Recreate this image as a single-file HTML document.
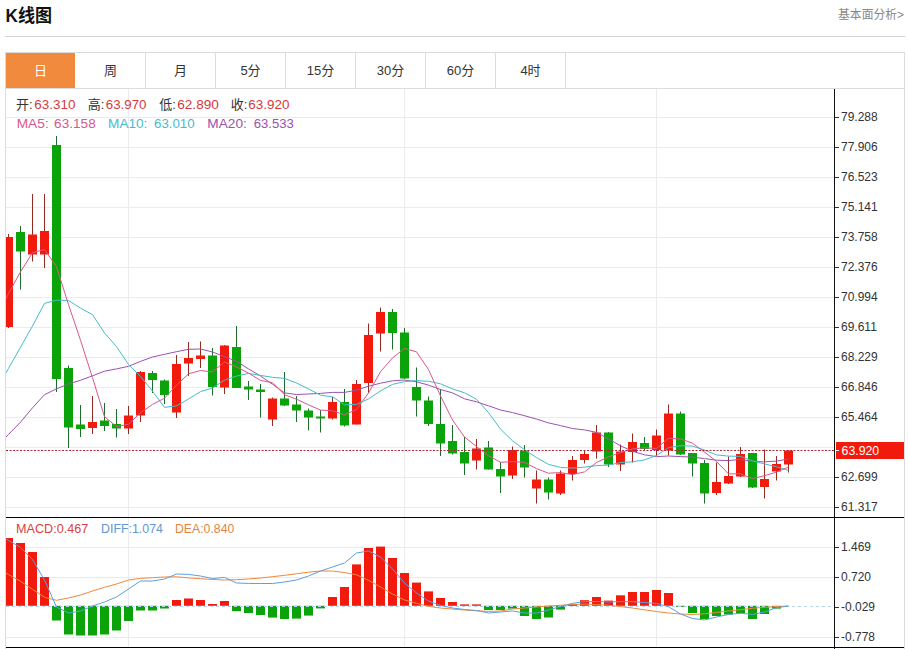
<!DOCTYPE html><html><head><meta charset="utf-8"><style>html,body{margin:0;padding:0;background:#fff;}body{width:908px;height:649px;overflow:hidden;position:relative;}svg{position:absolute;left:0;top:0;display:block;}text{font-family:"Liberation Sans","Noto Sans CJK SC",sans-serif;}</style></head><body>
<svg width="908" height="649" viewBox="0 0 908 649">
<defs><clipPath id="cm"><rect x="6" y="89" width="828.5" height="428"/></clipPath><clipPath id="cd"><rect x="6" y="518" width="828.5" height="129"/></clipPath></defs>
<text x="5.6" y="21.8" font-size="18" font-weight="bold" fill="#111" textLength="46.4" lengthAdjust="spacingAndGlyphs">K线图</text>
<text x="838" y="19.4" font-size="12" fill="#888" textLength="66" lengthAdjust="spacingAndGlyphs">基本面分析&gt;</text>
<rect x="5" y="36" width="900" height="1" fill="#d4d4d4"/>
<rect x="5" y="52" width="900" height="1" fill="#dcdcdc"/>
<rect x="5" y="52" width="1" height="597" fill="#dcdcdc"/>
<rect x="904" y="52" width="1" height="597" fill="#dcdcdc"/>
<rect x="6" y="53" width="69" height="35" fill="#f18a3d"/>
<rect x="145" y="53" width="1" height="35" fill="#dcdcdc"/>
<rect x="215" y="53" width="1" height="35" fill="#dcdcdc"/>
<rect x="285" y="53" width="1" height="35" fill="#dcdcdc"/>
<rect x="355" y="53" width="1" height="35" fill="#dcdcdc"/>
<rect x="425" y="53" width="1" height="35" fill="#dcdcdc"/>
<rect x="495" y="53" width="1" height="35" fill="#dcdcdc"/>
<rect x="565" y="53" width="1" height="35" fill="#dcdcdc"/>
<rect x="5" y="88" width="900" height="1" fill="#dcdcdc"/>
<text x="40.5" y="75.3" font-size="13" fill="#fff" text-anchor="middle">日</text>
<text x="110.5" y="75.3" font-size="13" fill="#333" text-anchor="middle">周</text>
<text x="180.5" y="75.3" font-size="13" fill="#333" text-anchor="middle">月</text>
<text x="250.5" y="75.3" font-size="13" fill="#333" text-anchor="middle">5分</text>
<text x="320.5" y="75.3" font-size="13" fill="#333" text-anchor="middle">15分</text>
<text x="390.5" y="75.3" font-size="13" fill="#333" text-anchor="middle">30分</text>
<text x="460.5" y="75.3" font-size="13" fill="#333" text-anchor="middle">60分</text>
<text x="530.5" y="75.3" font-size="13" fill="#333" text-anchor="middle">4时</text>
<rect x="6" y="117" width="828" height="1" fill="#ebebeb"/>
<rect x="6" y="147" width="828" height="1" fill="#ebebeb"/>
<rect x="6" y="177" width="828" height="1" fill="#ebebeb"/>
<rect x="6" y="207" width="828" height="1" fill="#ebebeb"/>
<rect x="6" y="237" width="828" height="1" fill="#ebebeb"/>
<rect x="6" y="267" width="828" height="1" fill="#ebebeb"/>
<rect x="6" y="297" width="828" height="1" fill="#ebebeb"/>
<rect x="6" y="327" width="828" height="1" fill="#ebebeb"/>
<rect x="6" y="357" width="828" height="1" fill="#ebebeb"/>
<rect x="6" y="387" width="828" height="1" fill="#ebebeb"/>
<rect x="6" y="417" width="828" height="1" fill="#ebebeb"/>
<rect x="6" y="447" width="828" height="1" fill="#ebebeb"/>
<rect x="6" y="477" width="828" height="1" fill="#ebebeb"/>
<rect x="6" y="507" width="828" height="1" fill="#ebebeb"/>
<rect x="6" y="547" width="828" height="1" fill="#ebebeb"/>
<rect x="6" y="577" width="828" height="1" fill="#ebebeb"/>
<rect x="6" y="637" width="828" height="1" fill="#ebebeb"/>
<rect x="128" y="89" width="1" height="558" fill="#ebebeb"/>
<rect x="404" y="89" width="1" height="558" fill="#ebebeb"/>
<rect x="656" y="89" width="1" height="558" fill="#ebebeb"/>
<g clip-path="url(#cm)">
<rect x="8.0" y="234.0" width="1" height="94.0" fill="#962a20"/>
<rect x="4.0" y="237.0" width="9" height="90.0" fill="#f21a0c"/>
<rect x="20.0" y="226.0" width="1" height="63.5" fill="#1c6e2a"/>
<rect x="16.0" y="232.0" width="9" height="19.5" fill="#0aa40a"/>
<rect x="32.0" y="194.0" width="1" height="67.5" fill="#962a20"/>
<rect x="28.0" y="234.5" width="9" height="20.0" fill="#f21a0c"/>
<rect x="44.0" y="194.0" width="1" height="74.0" fill="#962a20"/>
<rect x="40.0" y="231.0" width="9" height="23.5" fill="#f21a0c"/>
<rect x="56.0" y="136.0" width="1" height="256.0" fill="#1c6e2a"/>
<rect x="52.0" y="145.0" width="9" height="234.0" fill="#0aa40a"/>
<rect x="68.0" y="365.5" width="1" height="82.5" fill="#1c6e2a"/>
<rect x="64.0" y="368.0" width="9" height="59.5" fill="#0aa40a"/>
<rect x="80.0" y="405.0" width="1" height="32.0" fill="#1c6e2a"/>
<rect x="76.0" y="424.5" width="9" height="4.5" fill="#0aa40a"/>
<rect x="92.0" y="396.0" width="1" height="38.0" fill="#962a20"/>
<rect x="88.0" y="422.0" width="9" height="6.0" fill="#f21a0c"/>
<rect x="104.0" y="403.0" width="1" height="28.0" fill="#1c6e2a"/>
<rect x="100.0" y="420.5" width="9" height="5.5" fill="#0aa40a"/>
<rect x="116.0" y="409.0" width="1" height="28.5" fill="#1c6e2a"/>
<rect x="112.0" y="424.0" width="9" height="4.5" fill="#0aa40a"/>
<rect x="128.0" y="406.0" width="1" height="28.0" fill="#962a20"/>
<rect x="124.0" y="415.5" width="9" height="13.0" fill="#f21a0c"/>
<rect x="140.0" y="371.0" width="1" height="51.0" fill="#962a20"/>
<rect x="136.0" y="372.0" width="9" height="43.5" fill="#f21a0c"/>
<rect x="152.0" y="371.0" width="1" height="22.0" fill="#1c6e2a"/>
<rect x="148.0" y="373.0" width="9" height="7.0" fill="#0aa40a"/>
<rect x="164.0" y="379.5" width="1" height="24.5" fill="#1c6e2a"/>
<rect x="160.0" y="380.5" width="9" height="14.5" fill="#0aa40a"/>
<rect x="176.0" y="355.0" width="1" height="63.0" fill="#962a20"/>
<rect x="172.0" y="364.0" width="9" height="48.5" fill="#f21a0c"/>
<rect x="188.0" y="342.0" width="1" height="34.0" fill="#962a20"/>
<rect x="184.0" y="358.0" width="9" height="5.5" fill="#f21a0c"/>
<rect x="200.0" y="341.5" width="1" height="26.5" fill="#962a20"/>
<rect x="196.0" y="355.5" width="9" height="3.5" fill="#f21a0c"/>
<rect x="212.0" y="348.0" width="1" height="47.5" fill="#1c6e2a"/>
<rect x="208.0" y="355.5" width="9" height="31.5" fill="#0aa40a"/>
<rect x="224.0" y="345.0" width="1" height="49.0" fill="#962a20"/>
<rect x="220.0" y="345.5" width="9" height="42.0" fill="#f21a0c"/>
<rect x="236.0" y="326.0" width="1" height="62.0" fill="#1c6e2a"/>
<rect x="232.0" y="347.0" width="9" height="41.0" fill="#0aa40a"/>
<rect x="248.0" y="381.0" width="1" height="19.0" fill="#1c6e2a"/>
<rect x="244.0" y="386.5" width="9" height="3.0" fill="#0aa40a"/>
<rect x="260.0" y="384.0" width="1" height="33.5" fill="#1c6e2a"/>
<rect x="256.0" y="389.5" width="9" height="2.5" fill="#0aa40a"/>
<rect x="272.0" y="397.5" width="1" height="28.5" fill="#962a20"/>
<rect x="268.0" y="398.5" width="9" height="21.0" fill="#f21a0c"/>
<rect x="284.0" y="372.0" width="1" height="34.0" fill="#1c6e2a"/>
<rect x="280.0" y="398.5" width="9" height="7.0" fill="#0aa40a"/>
<rect x="296.0" y="396.0" width="1" height="26.0" fill="#1c6e2a"/>
<rect x="292.0" y="404.5" width="9" height="6.0" fill="#0aa40a"/>
<rect x="308.0" y="408.5" width="1" height="22.0" fill="#1c6e2a"/>
<rect x="304.0" y="410.5" width="9" height="7.0" fill="#0aa40a"/>
<rect x="320.0" y="410.0" width="1" height="22.5" fill="#1c6e2a"/>
<rect x="316.0" y="416.5" width="9" height="2.0" fill="#0aa40a"/>
<rect x="332.0" y="397.0" width="1" height="22.5" fill="#962a20"/>
<rect x="328.0" y="402.0" width="9" height="16.5" fill="#f21a0c"/>
<rect x="344.0" y="389.0" width="1" height="37.5" fill="#1c6e2a"/>
<rect x="340.0" y="402.0" width="9" height="23.5" fill="#0aa40a"/>
<rect x="356.0" y="380.0" width="1" height="44.5" fill="#962a20"/>
<rect x="352.0" y="384.0" width="9" height="40.5" fill="#f21a0c"/>
<rect x="368.0" y="323.5" width="1" height="69.5" fill="#962a20"/>
<rect x="364.0" y="335.0" width="9" height="48.0" fill="#f21a0c"/>
<rect x="380.0" y="307.5" width="1" height="44.0" fill="#962a20"/>
<rect x="376.0" y="312.0" width="9" height="21.5" fill="#f21a0c"/>
<rect x="392.0" y="309.0" width="1" height="40.5" fill="#1c6e2a"/>
<rect x="388.0" y="312.0" width="9" height="21.0" fill="#0aa40a"/>
<rect x="404.0" y="328.0" width="1" height="51.0" fill="#1c6e2a"/>
<rect x="400.0" y="332.5" width="9" height="46.0" fill="#0aa40a"/>
<rect x="416.0" y="367.5" width="1" height="49.0" fill="#1c6e2a"/>
<rect x="412.0" y="387.0" width="9" height="13.5" fill="#0aa40a"/>
<rect x="428.0" y="396.5" width="1" height="29.5" fill="#1c6e2a"/>
<rect x="424.0" y="400.5" width="9" height="23.5" fill="#0aa40a"/>
<rect x="440.0" y="389.0" width="1" height="67.0" fill="#1c6e2a"/>
<rect x="436.0" y="424.0" width="9" height="19.5" fill="#0aa40a"/>
<rect x="452.0" y="425.0" width="1" height="29.5" fill="#1c6e2a"/>
<rect x="448.0" y="441.0" width="9" height="12.5" fill="#0aa40a"/>
<rect x="464.0" y="437.0" width="1" height="38.0" fill="#1c6e2a"/>
<rect x="460.0" y="452.0" width="9" height="11.5" fill="#0aa40a"/>
<rect x="476.0" y="439.0" width="1" height="30.5" fill="#962a20"/>
<rect x="472.0" y="448.5" width="9" height="12.0" fill="#f21a0c"/>
<rect x="488.0" y="441.0" width="1" height="28.5" fill="#1c6e2a"/>
<rect x="484.0" y="447.5" width="9" height="22.0" fill="#0aa40a"/>
<rect x="500.0" y="462.0" width="1" height="31.0" fill="#1c6e2a"/>
<rect x="496.0" y="469.0" width="9" height="7.5" fill="#0aa40a"/>
<rect x="512.0" y="446.5" width="1" height="32.5" fill="#962a20"/>
<rect x="508.0" y="450.0" width="9" height="25.5" fill="#f21a0c"/>
<rect x="524.0" y="445.0" width="1" height="32.5" fill="#1c6e2a"/>
<rect x="520.0" y="450.5" width="9" height="17.0" fill="#0aa40a"/>
<rect x="536.0" y="470.5" width="1" height="33.0" fill="#962a20"/>
<rect x="532.0" y="479.5" width="9" height="9.0" fill="#f21a0c"/>
<rect x="548.0" y="477.5" width="1" height="22.0" fill="#1c6e2a"/>
<rect x="544.0" y="479.5" width="9" height="13.0" fill="#0aa40a"/>
<rect x="560.0" y="470.5" width="1" height="24.5" fill="#962a20"/>
<rect x="556.0" y="473.5" width="9" height="20.0" fill="#f21a0c"/>
<rect x="572.0" y="456.0" width="1" height="24.5" fill="#962a20"/>
<rect x="568.0" y="460.0" width="9" height="14.0" fill="#f21a0c"/>
<rect x="584.0" y="450.5" width="1" height="13.0" fill="#962a20"/>
<rect x="580.0" y="454.0" width="9" height="6.0" fill="#f21a0c"/>
<rect x="596.0" y="425.0" width="1" height="33.5" fill="#962a20"/>
<rect x="592.0" y="432.5" width="9" height="19.0" fill="#f21a0c"/>
<rect x="608.0" y="432.0" width="1" height="35.0" fill="#1c6e2a"/>
<rect x="604.0" y="432.5" width="9" height="32.0" fill="#0aa40a"/>
<rect x="620.0" y="444.5" width="1" height="26.5" fill="#962a20"/>
<rect x="616.0" y="451.5" width="9" height="13.0" fill="#f21a0c"/>
<rect x="632.0" y="433.5" width="1" height="29.0" fill="#962a20"/>
<rect x="628.0" y="442.0" width="9" height="10.0" fill="#f21a0c"/>
<rect x="644.0" y="437.0" width="1" height="13.0" fill="#1c6e2a"/>
<rect x="640.0" y="443.0" width="9" height="6.0" fill="#0aa40a"/>
<rect x="656.0" y="429.5" width="1" height="26.5" fill="#962a20"/>
<rect x="652.0" y="435.5" width="9" height="14.5" fill="#f21a0c"/>
<rect x="668.0" y="404.5" width="1" height="51.0" fill="#962a20"/>
<rect x="664.0" y="413.5" width="9" height="37.0" fill="#f21a0c"/>
<rect x="680.0" y="411.5" width="1" height="43.5" fill="#1c6e2a"/>
<rect x="676.0" y="413.5" width="9" height="41.0" fill="#0aa40a"/>
<rect x="692.0" y="453.0" width="1" height="23.5" fill="#1c6e2a"/>
<rect x="688.0" y="453.0" width="9" height="10.5" fill="#0aa40a"/>
<rect x="704.0" y="460.0" width="1" height="43.5" fill="#1c6e2a"/>
<rect x="700.0" y="463.0" width="9" height="30.5" fill="#0aa40a"/>
<rect x="716.0" y="462.5" width="1" height="32.5" fill="#962a20"/>
<rect x="712.0" y="482.0" width="9" height="11.0" fill="#f21a0c"/>
<rect x="728.0" y="456.5" width="1" height="27.5" fill="#962a20"/>
<rect x="724.0" y="476.0" width="9" height="7.5" fill="#f21a0c"/>
<rect x="740.0" y="447.0" width="1" height="30.0" fill="#962a20"/>
<rect x="736.0" y="454.0" width="9" height="22.5" fill="#f21a0c"/>
<rect x="752.0" y="453.0" width="1" height="35.0" fill="#1c6e2a"/>
<rect x="748.0" y="453.0" width="9" height="34.5" fill="#0aa40a"/>
<rect x="764.0" y="449.5" width="1" height="49.0" fill="#962a20"/>
<rect x="760.0" y="479.0" width="9" height="8.0" fill="#f21a0c"/>
<rect x="776.0" y="456.0" width="1" height="24.5" fill="#962a20"/>
<rect x="772.0" y="464.0" width="9" height="7.5" fill="#f21a0c"/>
<rect x="788.0" y="450.5" width="1" height="22.0" fill="#962a20"/>
<rect x="784.0" y="450.5" width="9" height="14.0" fill="#f21a0c"/>
<polyline points="-3.5,447.0 8.5,434.4 20.5,422.2 32.5,407.8 44.5,394.7 56.5,388.8 68.5,383.9 80.5,380.3 92.5,375.8 104.5,371.2 116.5,368.9 128.5,366.3 140.5,361.4 152.5,357.0 164.5,354.3 176.5,351.7 188.5,349.3 200.5,349.0 212.5,352.0 224.5,356.6 236.5,361.3 248.5,368.9 260.5,376.0 272.5,384.2 284.5,392.9 296.5,394.5 308.5,394.0 320.5,393.4 332.5,392.4 344.5,392.4 356.5,390.2 368.5,386.2 380.5,383.2 392.5,380.8 404.5,380.0 416.5,381.8 428.5,385.1 440.5,389.5 452.5,392.9 464.5,398.8 476.5,401.8 488.5,405.8 500.5,410.0 512.5,412.6 524.5,415.7 536.5,419.1 548.5,422.9 560.5,425.6 572.5,428.5 584.5,429.9 596.5,432.4 608.5,438.9 620.5,445.8 632.5,451.3 644.5,454.8 656.5,456.6 668.5,456.0 680.5,456.6 692.5,457.1 704.5,458.6 716.5,460.2 728.5,460.6 740.5,459.4 752.5,461.3 764.5,461.9 776.5,461.1 788.5,459.0" fill="none" stroke="#9d50b2" stroke-width="1"/>
<polyline points="-3.5,390.0 8.5,368.4 20.5,347.3 32.5,326.0 44.5,303.4 56.5,300.2 68.5,300.5 80.5,308.1 92.5,314.7 104.5,333.0 116.5,346.6 128.5,364.4 140.5,376.5 152.5,391.1 164.5,407.4 176.5,405.9 188.5,399.0 200.5,391.6 212.5,388.1 224.5,380.1 236.5,376.1 248.5,373.4 260.5,375.4 272.5,377.3 284.5,378.4 296.5,383.0 308.5,388.9 320.5,395.2 332.5,396.8 344.5,404.8 356.5,404.4 368.5,398.9 380.5,390.9 392.5,384.4 404.5,381.6 416.5,380.6 428.5,381.3 440.5,383.8 452.5,388.9 464.5,392.8 476.5,399.2 488.5,412.6 500.5,429.1 512.5,440.8 524.5,449.7 536.5,457.6 548.5,464.4 560.5,467.4 572.5,468.1 584.5,467.1 596.5,465.6 608.5,465.1 620.5,462.6 632.5,461.8 644.5,459.9 656.5,455.5 668.5,447.6 680.5,445.7 692.5,446.1 704.5,450.0 716.5,454.9 728.5,456.1 740.5,456.4 752.5,460.9 764.5,463.9 776.5,466.8 788.5,470.4" fill="none" stroke="#45bccb" stroke-width="1"/>
<polyline points="-3.5,318.0 8.5,293.6 20.5,271.9 32.5,252.6 44.5,249.5 56.5,266.6 68.5,304.7 80.5,340.2 92.5,377.7 104.5,416.7 116.5,426.6 128.5,424.2 140.5,412.8 152.5,404.4 164.5,398.2 176.5,385.3 188.5,373.8 200.5,370.5 212.5,371.9 224.5,362.0 236.5,366.8 248.5,373.1 260.5,380.4 272.5,382.7 284.5,394.7 296.5,399.2 308.5,404.8 320.5,410.1 332.5,410.8 344.5,414.8 356.5,409.5 368.5,393.0 380.5,371.7 392.5,357.9 404.5,348.5 416.5,351.8 428.5,369.6 440.5,395.9 452.5,420.0 464.5,437.0 476.5,446.6 488.5,455.7 500.5,462.3 512.5,461.6 524.5,462.4 536.5,468.6 548.5,473.2 560.5,472.6 572.5,474.6 584.5,471.9 596.5,462.5 608.5,456.9 620.5,452.5 632.5,448.9 644.5,447.9 656.5,448.5 668.5,438.3 680.5,438.9 692.5,443.2 704.5,452.1 716.5,461.4 728.5,473.9 740.5,473.8 752.5,478.6 764.5,475.7 776.5,472.1 788.5,467.0" fill="none" stroke="#d9578f" stroke-width="1"/>
</g>
<line x1="6" y1="450.5" x2="834" y2="450.5" stroke="#b0283a" stroke-width="1" stroke-dasharray="2 1.5"/>
<g clip-path="url(#cd)">
<rect x="4.0" y="538.0" width="9" height="67.8" fill="#f21a0c"/>
<rect x="16.0" y="543.0" width="9" height="62.8" fill="#f21a0c"/>
<rect x="28.0" y="552.0" width="9" height="53.8" fill="#f21a0c"/>
<rect x="40.0" y="577.0" width="9" height="28.8" fill="#f21a0c"/>
<rect x="52.0" y="605.8" width="9" height="14.7" fill="#0aa40a"/>
<rect x="64.0" y="605.8" width="9" height="28.7" fill="#0aa40a"/>
<rect x="76.0" y="605.8" width="9" height="29.7" fill="#0aa40a"/>
<rect x="88.0" y="605.8" width="9" height="29.7" fill="#0aa40a"/>
<rect x="100.0" y="605.8" width="9" height="28.7" fill="#0aa40a"/>
<rect x="112.0" y="605.8" width="9" height="24.7" fill="#0aa40a"/>
<rect x="124.0" y="605.8" width="9" height="15.2" fill="#0aa40a"/>
<rect x="136.0" y="605.8" width="9" height="4.7" fill="#0aa40a"/>
<rect x="148.0" y="605.8" width="9" height="4.7" fill="#0aa40a"/>
<rect x="160.0" y="605.8" width="9" height="2.7" fill="#0aa40a"/>
<rect x="172.0" y="600.0" width="9" height="5.8" fill="#f21a0c"/>
<rect x="184.0" y="598.5" width="9" height="7.3" fill="#f21a0c"/>
<rect x="196.0" y="600.0" width="9" height="5.8" fill="#f21a0c"/>
<rect x="208.0" y="604.0" width="9" height="1.8" fill="#f21a0c"/>
<rect x="220.0" y="601.0" width="9" height="4.8" fill="#f21a0c"/>
<rect x="232.0" y="605.8" width="9" height="5.4" fill="#0aa40a"/>
<rect x="244.0" y="605.8" width="9" height="7.2" fill="#0aa40a"/>
<rect x="256.0" y="605.8" width="9" height="9.2" fill="#0aa40a"/>
<rect x="268.0" y="605.8" width="9" height="11.8" fill="#0aa40a"/>
<rect x="280.0" y="605.8" width="9" height="13.2" fill="#0aa40a"/>
<rect x="292.0" y="605.8" width="9" height="12.8" fill="#0aa40a"/>
<rect x="304.0" y="605.8" width="9" height="9.8" fill="#0aa40a"/>
<rect x="316.0" y="605.8" width="9" height="2.6" fill="#0aa40a"/>
<rect x="328.0" y="597.0" width="9" height="8.8" fill="#f21a0c"/>
<rect x="340.0" y="587.0" width="9" height="18.8" fill="#f21a0c"/>
<rect x="352.0" y="564.4" width="9" height="41.4" fill="#f21a0c"/>
<rect x="364.0" y="548.0" width="9" height="57.8" fill="#f21a0c"/>
<rect x="376.0" y="546.6" width="9" height="59.2" fill="#f21a0c"/>
<rect x="388.0" y="558.0" width="9" height="47.8" fill="#f21a0c"/>
<rect x="400.0" y="573.0" width="9" height="32.8" fill="#f21a0c"/>
<rect x="412.0" y="582.6" width="9" height="23.2" fill="#f21a0c"/>
<rect x="424.0" y="591.4" width="9" height="14.4" fill="#f21a0c"/>
<rect x="436.0" y="598.0" width="9" height="7.8" fill="#f21a0c"/>
<rect x="448.0" y="602.0" width="9" height="3.8" fill="#f21a0c"/>
<rect x="460.0" y="604.4" width="9" height="1.4" fill="#f21a0c"/>
<rect x="472.0" y="604.4" width="9" height="1.4" fill="#f21a0c"/>
<rect x="484.0" y="605.8" width="9" height="4.2" fill="#0aa40a"/>
<rect x="496.0" y="605.8" width="9" height="4.2" fill="#0aa40a"/>
<rect x="508.0" y="605.8" width="9" height="2.8" fill="#0aa40a"/>
<rect x="520.0" y="605.8" width="9" height="10.2" fill="#0aa40a"/>
<rect x="532.0" y="605.8" width="9" height="13.2" fill="#0aa40a"/>
<rect x="544.0" y="605.8" width="9" height="11.7" fill="#0aa40a"/>
<rect x="556.0" y="605.8" width="9" height="3.8" fill="#0aa40a"/>
<rect x="568.0" y="604.0" width="9" height="1.8" fill="#f21a0c"/>
<rect x="580.0" y="600.2" width="9" height="5.6" fill="#f21a0c"/>
<rect x="592.0" y="597.0" width="9" height="8.8" fill="#f21a0c"/>
<rect x="604.0" y="600.6" width="9" height="5.2" fill="#f21a0c"/>
<rect x="616.0" y="595.3" width="9" height="10.5" fill="#f21a0c"/>
<rect x="628.0" y="592.0" width="9" height="13.8" fill="#f21a0c"/>
<rect x="640.0" y="592.0" width="9" height="13.8" fill="#f21a0c"/>
<rect x="652.0" y="590.0" width="9" height="15.8" fill="#f21a0c"/>
<rect x="664.0" y="593.0" width="9" height="12.8" fill="#f21a0c"/>
<rect x="676.0" y="605.8" width="9" height="1.0" fill="#0aa40a"/>
<rect x="688.0" y="605.8" width="9" height="7.2" fill="#0aa40a"/>
<rect x="700.0" y="605.8" width="9" height="13.2" fill="#0aa40a"/>
<rect x="712.0" y="605.8" width="9" height="10.2" fill="#0aa40a"/>
<rect x="724.0" y="605.8" width="9" height="8.7" fill="#0aa40a"/>
<rect x="736.0" y="605.8" width="9" height="7.7" fill="#0aa40a"/>
<rect x="748.0" y="605.8" width="9" height="13.2" fill="#0aa40a"/>
<rect x="760.0" y="605.8" width="9" height="8.2" fill="#0aa40a"/>
<rect x="772.0" y="605.8" width="9" height="2.8" fill="#0aa40a"/>
<line x1="6" y1="606.5" x2="834" y2="606.5" stroke="#b8d4ec" stroke-width="1" stroke-dasharray="3 3"/>
<polyline points="-3.5,567.0 8.5,574.5 20.5,581.3 32.5,589.3 44.5,597.3 56.5,600.3 68.5,598.0 80.5,595.0 92.5,591.0 104.5,587.3 116.5,584.0 128.5,580.0 140.5,578.4 152.5,577.7 164.5,577.0 176.5,576.8 188.5,577.9 200.5,578.7 212.5,579.5 224.5,580.0 236.5,579.7 248.5,579.0 260.5,578.0 272.5,576.7 284.5,575.3 296.5,573.8 308.5,572.2 320.5,571.0 332.5,571.0 344.5,572.5 356.5,574.8 368.5,580.3 380.5,587.0 392.5,594.0 404.5,600.0 416.5,603.3 428.5,606.4 440.5,608.0 452.5,609.1 464.5,610.0 476.5,610.8 488.5,611.4 500.5,611.0 512.5,609.0 524.5,608.0 536.5,607.0 548.5,606.0 560.5,605.3 572.5,604.5 584.5,604.1 596.5,604.5 608.5,605.2 620.5,606.6 632.5,608.0 644.5,609.8 656.5,611.5 668.5,613.0 680.5,614.0 692.5,614.5 704.5,613.8 716.5,612.5 728.5,611.0 740.5,609.7 752.5,608.3 764.5,607.3 776.5,606.6 788.5,606.0" fill="none" stroke="#f0883a" stroke-width="1"/>
<polyline points="-3.5,533.0 8.5,540.5 20.5,547.3 32.5,559.5 44.5,580.0 56.5,607.0 68.5,613.0 80.5,611.0 92.5,606.0 104.5,602.0 116.5,597.0 128.5,589.0 140.5,581.0 152.5,581.0 164.5,579.0 176.5,574.0 188.5,574.4 200.5,576.0 212.5,578.6 224.5,577.4 236.5,583.0 248.5,583.4 260.5,583.5 272.5,583.5 284.5,582.0 296.5,580.0 308.5,576.0 320.5,571.0 332.5,567.0 344.5,563.0 356.5,553.0 368.5,551.0 380.5,557.0 392.5,569.0 404.5,583.0 416.5,593.0 428.5,601.0 440.5,605.5 452.5,608.0 464.5,609.5 476.5,610.5 488.5,613.0 500.5,612.0 512.5,611.0 524.5,613.0 536.5,613.0 548.5,610.0 560.5,606.5 572.5,603.3 584.5,601.6 596.5,601.5 608.5,602.0 620.5,601.6 632.5,601.6 644.5,602.5 656.5,603.5 668.5,606.6 680.5,614.0 692.5,618.5 704.5,620.0 716.5,617.0 728.5,614.5 740.5,613.2 752.5,614.5 764.5,612.0 776.5,607.7 788.5,606.0" fill="none" stroke="#5a9ee0" stroke-width="1"/>
</g>
<rect x="6" y="517" width="898" height="1" fill="#000"/>
<rect x="6" y="647" width="898" height="1" fill="#000"/>
<rect x="834" y="89" width="1" height="560" fill="#111"/>
<rect x="835" y="117" width="4" height="1" fill="#333"/>
<text x="841" y="121.3" font-size="12" fill="#333">79.288</text>
<rect x="835" y="147" width="4" height="1" fill="#333"/>
<text x="841" y="151.3" font-size="12" fill="#333">77.906</text>
<rect x="835" y="177" width="4" height="1" fill="#333"/>
<text x="841" y="181.3" font-size="12" fill="#333">76.523</text>
<rect x="835" y="207" width="4" height="1" fill="#333"/>
<text x="841" y="211.3" font-size="12" fill="#333">75.141</text>
<rect x="835" y="237" width="4" height="1" fill="#333"/>
<text x="841" y="241.3" font-size="12" fill="#333">73.758</text>
<rect x="835" y="267" width="4" height="1" fill="#333"/>
<text x="841" y="271.3" font-size="12" fill="#333">72.376</text>
<rect x="835" y="297" width="4" height="1" fill="#333"/>
<text x="841" y="301.3" font-size="12" fill="#333">70.994</text>
<rect x="835" y="327" width="4" height="1" fill="#333"/>
<text x="841" y="331.3" font-size="12" fill="#333">69.611</text>
<rect x="835" y="357" width="4" height="1" fill="#333"/>
<text x="841" y="361.3" font-size="12" fill="#333">68.229</text>
<rect x="835" y="387" width="4" height="1" fill="#333"/>
<text x="841" y="391.3" font-size="12" fill="#333">66.846</text>
<rect x="835" y="417" width="4" height="1" fill="#333"/>
<text x="841" y="421.3" font-size="12" fill="#333">65.464</text>
<rect x="835" y="477" width="4" height="1" fill="#333"/>
<text x="841" y="481.3" font-size="12" fill="#333">62.699</text>
<rect x="835" y="507" width="4" height="1" fill="#333"/>
<text x="841" y="511.3" font-size="12" fill="#333">61.317</text>
<rect x="835" y="547" width="4" height="1" fill="#333"/>
<text x="841" y="551.3" font-size="12" fill="#333">1.469</text>
<rect x="835" y="577" width="4" height="1" fill="#333"/>
<text x="841" y="581.3" font-size="12" fill="#333">0.720</text>
<rect x="835" y="607" width="4" height="1" fill="#333"/>
<text x="841" y="611.3" font-size="12" fill="#333">-0.029</text>
<rect x="835" y="637" width="4" height="1" fill="#333"/>
<text x="841" y="641.3" font-size="12" fill="#333">-0.778</text>
<rect x="836" y="442" width="68" height="17" fill="#f21a0c"/>
<rect x="835" y="450" width="4" height="1" fill="#fff"/>
<text x="841.6" y="455.2" font-size="12.3" fill="#fff">63.920</text>
<text x="16.0" y="109.4" font-size="13" fill="#333">开:</text>
<text x="34.3" y="109.4" font-size="13" fill="#d8383c" textLength="41.1" lengthAdjust="spacingAndGlyphs">63.310</text>
<text x="87.7" y="109.4" font-size="13" fill="#333">高:</text>
<text x="105.8" y="109.4" font-size="13" fill="#d8383c" textLength="40.7" lengthAdjust="spacingAndGlyphs">63.970</text>
<text x="159.2" y="109.4" font-size="13" fill="#333">低:</text>
<text x="177.2" y="109.4" font-size="13" fill="#d8383c" textLength="41.7" lengthAdjust="spacingAndGlyphs">62.890</text>
<text x="230.8" y="109.4" font-size="13" fill="#333">收:</text>
<text x="248.3" y="109.4" font-size="13" fill="#d8383c" textLength="41.1" lengthAdjust="spacingAndGlyphs">63.920</text>
<text x="16.7" y="127.6" font-size="13" fill="#d9578f" textLength="32.0" lengthAdjust="spacingAndGlyphs">MA5:</text>
<text x="54.1" y="127.6" font-size="13" fill="#d9578f" textLength="41.6" lengthAdjust="spacingAndGlyphs">63.158</text>
<text x="108.1" y="127.6" font-size="13" fill="#45bccb" textLength="39.3" lengthAdjust="spacingAndGlyphs">MA10:</text>
<text x="154.0" y="127.6" font-size="13" fill="#45bccb" textLength="40.6" lengthAdjust="spacingAndGlyphs">63.010</text>
<text x="207.3" y="127.6" font-size="13" fill="#9d50b2" textLength="39.5" lengthAdjust="spacingAndGlyphs">MA20:</text>
<text x="253.7" y="127.6" font-size="13" fill="#9d50b2" textLength="40.2" lengthAdjust="spacingAndGlyphs">63.533</text>
<text x="16.1" y="532.6" font-size="12" fill="#d8403c" textLength="72.1" lengthAdjust="spacingAndGlyphs">MACD:0.467</text>
<text x="101.1" y="532.6" font-size="12" fill="#5f98d2" textLength="61.8" lengthAdjust="spacingAndGlyphs">DIFF:1.074</text>
<text x="175.0" y="532.6" font-size="12" fill="#e2863f" textLength="59.3" lengthAdjust="spacingAndGlyphs">DEA:0.840</text>
</svg></body></html>
